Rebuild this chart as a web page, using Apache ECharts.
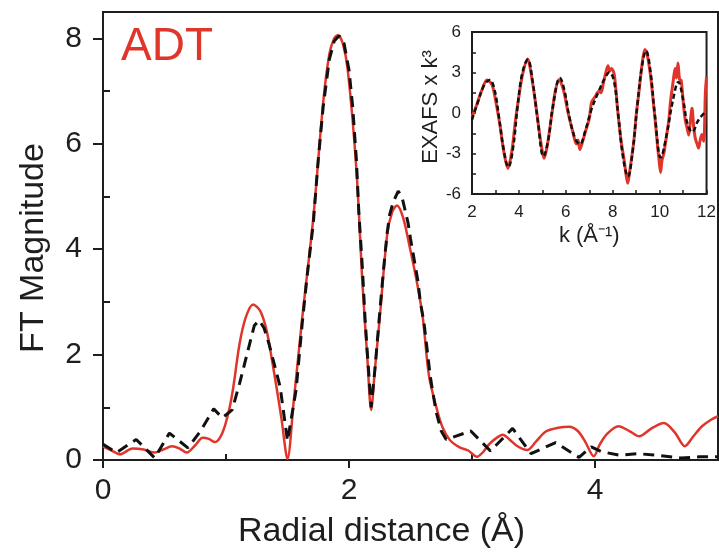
<!DOCTYPE html>
<html>
<head>
<meta charset="utf-8">
<script src="https://cdn.jsdelivr.net/npm/echarts@6/dist/echarts.min.js"></script>
<style>
html,body{margin:0;padding:0;background:#fff;}
#chart{width:719px;height:554px;}
</style>
</head>
<body>
<div id="chart"></div>
<script>
// Main panel: FT magnitude vs radial distance
var expR  = [0,0.07,0.14,0.24,0.33,0.42,0.49,0.56,0.62,0.68,0.75,0.81,0.86,0.91,0.95,0.99,1.03,1.06,1.11,1.16,1.22,1.28,1.33,1.37,1.41,1.45,1.50,1.55,1.62,1.71,1.79,1.84,1.88,1.91,1.95,1.99,2.06,2.11,2.15,2.18,2.21,2.25,2.31,2.35,2.39,2.44,2.49,2.55,2.60,2.65,2.71,2.76,2.82,2.90,2.97,3.04,3.09,3.14,3.20,3.25,3.30,3.37,3.45,3.52,3.60,3.70,3.79,3.86,3.92,3.99,4.04,4.10,4.19,4.28,4.36,4.46,4.56,4.65,4.73,4.80,4.87,4.94,5.00];
var expFT = [0.26,0.18,0.11,0.22,0.20,0.14,0.20,0.26,0.22,0.14,0.28,0.42,0.40,0.34,0.42,0.64,1.00,1.39,2.20,2.70,2.95,2.82,2.46,1.95,1.39,0.80,0.02,1.10,2.70,4.60,6.78,7.70,8.00,8.06,7.90,7.40,5.52,3.33,1.90,0.95,1.70,2.70,4.27,4.70,4.83,4.60,4.08,3.40,2.70,1.60,1.00,0.62,0.38,0.24,0.18,0.06,0.15,0.30,0.42,0.48,0.40,0.26,0.19,0.35,0.54,0.61,0.63,0.55,0.35,0.07,0.30,0.50,0.64,0.55,0.45,0.60,0.70,0.52,0.26,0.45,0.64,0.76,0.83];

var fitR  = [0,0.11,0.27,0.42,0.54,0.69,0.79,0.90,0.97,1.05,1.11,1.17,1.23,1.27,1.31,1.35,1.44,1.50,1.57,1.62,1.66,1.71,1.75,1.79,1.84,1.88,1.92,1.96,2.00,2.03,2.06,2.08,2.11,2.13,2.15,2.18,2.21,2.25,2.28,2.31,2.33,2.36,2.40,2.43,2.45,2.48,2.50,2.53,2.56,2.58,2.61,2.63,2.66,2.68,2.71,2.75,2.79,2.99,3.15,3.33,3.48,3.68,3.87,3.97,4.05,4.20,4.35,4.50,4.70,4.85,5.00];
var fitFT = [0.30,0.14,0.39,0.04,0.51,0.23,0.54,0.97,0.80,0.95,1.45,2.00,2.55,2.65,2.50,2.20,1.39,0.36,1.33,2.60,3.50,4.50,5.70,6.70,7.60,7.95,8.05,7.90,7.40,6.70,5.70,4.70,3.60,2.70,2.00,1.00,1.70,2.80,3.60,4.30,4.65,4.90,5.10,5.00,4.80,4.50,4.20,3.80,3.40,3.00,2.60,2.20,1.60,1.30,0.90,0.55,0.39,0.55,0.17,0.60,0.12,0.33,0.05,0.25,0.16,0.09,0.12,0.09,0.04,0.06,0.06];

// Inset: EXAFS x k^3 vs k
var expK   = [2.0,2.2,2.4,2.64,2.85,3.0,3.2,3.35,3.53,3.7,3.85,3.98,4.15,4.37,4.55,4.75,4.92,5.08,5.22,5.39,5.55,5.71,5.9,6.1,6.3,6.45,6.52,6.6,6.7,6.85,7.0,7.1,7.25,7.4,7.5,7.6,7.72,7.8,7.86,7.95,8.07,8.2,8.35,8.48,8.58,8.64,8.7,8.8,8.9,9.0,9.12,9.25,9.37,9.45,9.61,9.72,9.83,9.92,9.97,10.04,10.1,10.18,10.25,10.32,10.4,10.46,10.55,10.67,10.72,10.78,10.85,10.92,11.03,11.1,11.17,11.24,11.3,11.38,11.45,11.52,11.6,11.66,11.73,11.8,11.88,11.95,12.0];
var expChi = [-0.3,0.6,1.6,2.44,2.1,1.0,-1.0,-2.8,-4.1,-2.8,-0.6,1.0,2.8,4.0,2.6,0.2,-2.0,-3.35,-2.3,-0.27,1.6,2.49,1.7,0.0,-1.4,-2.3,-2.0,-2.7,-2.2,-1.3,-0.4,0.8,1.2,1.6,1.5,2.2,3.1,3.5,3.1,3.3,2.8,0.4,-2.0,-3.4,-4.7,-5.2,-4.6,-3.4,-2.1,-0.2,1.6,3.6,4.7,4.5,2.8,1.0,-0.9,-2.6,-3.4,-4.4,-3.5,-3.0,-2.2,-1.4,-0.4,0.8,2.0,3.3,2.6,3.7,2.5,2.4,0.35,-0.6,-1.1,-1.63,-0.8,0.35,-1.0,-1.88,-2.3,-2.6,-2.0,-1.6,-2.1,1.5,2.7];
var fitK   = [2.0,2.25,2.5,2.75,2.95,3.15,3.35,3.55,3.75,3.95,4.15,4.38,4.58,4.8,5.05,5.25,5.45,5.75,5.95,6.15,6.4,6.6,6.85,7.1,7.4,7.7,7.85,8.05,8.25,8.45,8.65,8.85,9.05,9.25,9.42,9.6,9.8,10.05,10.3,10.55,10.8,11.0,11.2,11.4,11.6,11.75,11.9];
var fitChi = [-0.5,0.8,2.0,2.45,1.8,-0.3,-2.7,-4.0,-2.6,0.6,3.0,3.95,2.4,-0.5,-3.2,-2.0,0.5,2.6,1.6,-0.3,-1.9,-2.3,-1.2,0.3,1.6,2.7,3.0,2.4,-0.4,-3.4,-4.7,-2.8,0.6,3.5,4.6,3.2,-0.2,-3.3,-1.6,0.8,2.3,1.0,-0.9,-1.4,-0.7,-0.3,0.0];

var mainXTicks = [0, 2, 4], mainXMinor = [1, 3];
var mainYTicks = [0, 2, 4, 6, 8], mainYMinor = [1, 3, 5, 7];

function zip(a, b) { return a.map(function (v, i) { return [v, b[i]]; }); }

var RED = '#e0352b';
var INK = '#1e1e1e';
var FONT = 'Liberation Sans, Arial, Helvetica, sans-serif';

var chart = echarts.init(document.getElementById('chart'), null, {renderer: 'canvas'});
var option = {
  backgroundColor: '#fff',
  animation: false,
  textStyle: {fontFamily: FONT},
  title: {
    text: 'ADT', left: 121, top: 24, padding: 0,
    textStyle: {color: RED, fontSize: 46, fontWeight: 'normal', fontFamily: FONT}
  },
  grid: [
    {left: 103, top: 12, right: 1, bottom: 90, show: true, borderColor: INK, borderWidth: 2, backgroundColor: 'transparent'},
    {left: 472, top: 32, width: 236, height: 162, show: true, borderColor: INK, borderWidth: 2, backgroundColor: '#fff'}
  ],
  xAxis: [
    {gridIndex: 0, type: 'value', min: 0, max: 5,
     name: 'Radial distance (Å)', nameLocation: 'middle', nameGap: 55,
     nameTextStyle: {fontSize: 34, color: INK, fontFamily: FONT, padding: [0, 58, 0, 0]},
     axisLine: {show: true, onZero: false, lineStyle: {color: INK, width: 2}},
     axisTick: {show: true, customValues: mainXTicks, length: 8, lineStyle: {color: INK, width: 2}},
     axisLabel: {show: true, customValues: mainXTicks, fontSize: 30, color: INK, margin: 16, fontFamily: FONT},
     splitLine: {show: false}},
    {gridIndex: 0, type: 'value', min: 0, max: 5,
     axisLine: {show: false},
     axisTick: {show: true, customValues: mainXMinor, length: 6, lineStyle: {color: INK, width: 2}},
     axisLabel: {show: false}, splitLine: {show: false}},
    {gridIndex: 1, type: 'value', min: 2, max: 12, interval: 2,
     name: 'k (Å⁻¹)', nameLocation: 'middle', nameGap: 31,
     nameTextStyle: {fontSize: 22, color: INK, fontFamily: FONT},
     axisLine: {show: true, onZero: false, lineStyle: {color: INK, width: 2}},
     axisTick: {show: true, inside: true, length: 4, lineStyle: {color: INK, width: 1.5}},
     minorTick: {show: true, splitNumber: 2, length: 4, lineStyle: {color: INK, width: 1.5}},
     axisLabel: {fontSize: 17, color: INK, margin: 10, fontFamily: FONT},
     splitLine: {show: false}, minorSplitLine: {show: false}}
  ],
  yAxis: [
    {gridIndex: 0, type: 'value', min: 0, max: 8.5,
     name: 'FT Magnitude', nameLocation: 'middle', nameGap: 52,
     nameTextStyle: {fontSize: 34, color: INK, fontFamily: FONT, padding: [0, 24, 0, 0]},
     axisLine: {show: true, onZero: false, lineStyle: {color: INK, width: 2}},
     axisTick: {show: true, customValues: mainYTicks, length: 10, lineStyle: {color: INK, width: 2}},
     axisLabel: {show: true, customValues: mainYTicks, fontSize: 30, color: INK, margin: 21, fontFamily: FONT},
     splitLine: {show: false}},
    {gridIndex: 0, type: 'value', min: 0, max: 8.5,
     axisLine: {show: false},
     axisTick: {show: true, customValues: mainYMinor, length: 7, lineStyle: {color: INK, width: 2}},
     axisLabel: {show: false}, splitLine: {show: false}},
    {gridIndex: 1, type: 'value', min: -6, max: 6, interval: 3,
     name: 'EXAFS x k³', nameLocation: 'middle', nameGap: 28,
     nameTextStyle: {fontSize: 22, color: INK, fontFamily: FONT, padding: [0, 0, 0, 12]},
     axisLine: {show: true, onZero: false, lineStyle: {color: INK, width: 2}},
     axisTick: {show: true, inside: true, length: 4, lineStyle: {color: INK, width: 1.5}},
     minorTick: {show: true, splitNumber: 2, length: 4, lineStyle: {color: INK, width: 1.5}},
     axisLabel: {fontSize: 17, color: INK, margin: 11, fontFamily: FONT},
     splitLine: {show: false}, minorSplitLine: {show: false}}
  ],
  series: [
    {type: 'line', name: 'exp', xAxisIndex: 0, yAxisIndex: 0, data: zip(expR, expFT),
     showSymbol: false, smooth: 0.3, lineStyle: {color: RED, width: 2.5}, z: 3},
    {type: 'line', name: 'fit', xAxisIndex: 0, yAxisIndex: 0, data: zip(fitR, fitFT),
     showSymbol: false, smooth: false, lineStyle: {color: '#111', width: 3, type: [11, 7]}, z: 4},
    {type: 'line', name: 'exp k', xAxisIndex: 2, yAxisIndex: 2, data: zip(expK, expChi),
     showSymbol: false, smooth: 0.3, lineStyle: {color: RED, width: 3}, z: 5},
    {type: 'line', name: 'fit k', xAxisIndex: 2, yAxisIndex: 2, data: zip(fitK, fitChi),
     showSymbol: false, smooth: 0.4, lineStyle: {color: '#111', width: 2.5, type: [5, 3]}, z: 6}
  ]
};
chart.setOption(option);
</script>
</body>
</html>
